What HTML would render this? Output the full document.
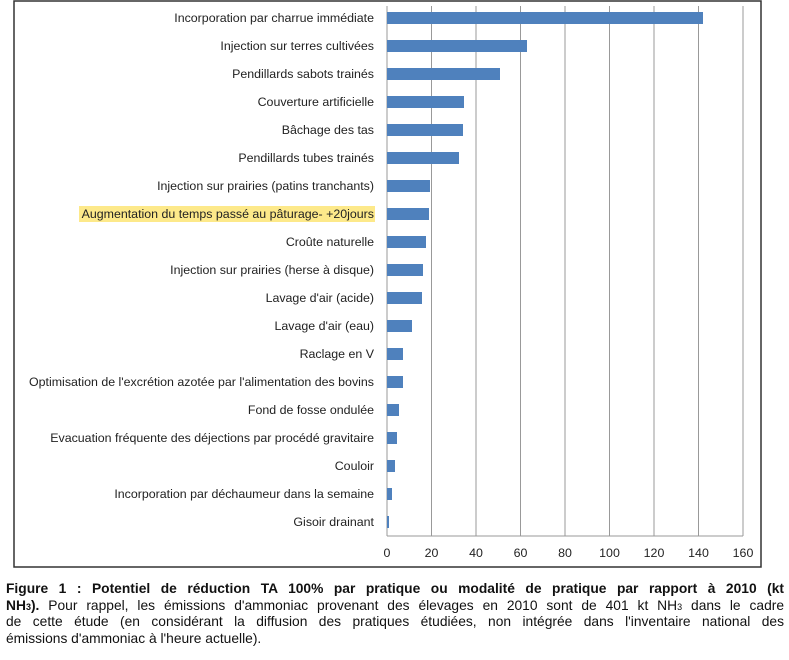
<!DOCTYPE html>
<html><head><meta charset="utf-8"><style>
body{margin:0;background:#fff;width:789px;height:660px;overflow:hidden;position:relative;font-family:"Liberation Sans",Arial,sans-serif}
svg{position:absolute;left:0;top:0}
.cap{position:absolute;left:6px;top:581px;width:778px;font-size:13.8px;line-height:16.6px;color:#111}
.cap div{text-align:justify;text-align-last:justify;white-space:nowrap;overflow:hidden;height:16.6px}
.cap div.l{text-align-last:left}
</style></head><body>
<svg width="789" height="575" viewBox="0 0 789 575" font-family="Liberation Sans, sans-serif" font-size="12.4" fill="#222">
<rect x="14" y="1" width="747" height="566" fill="#fff" stroke="#333" stroke-width="1.5"/>
<g stroke="#999" stroke-width="1">
<line x1="431.5" y1="6" x2="431.5" y2="536"/><line x1="476" y1="6" x2="476" y2="536"/><line x1="520.5" y1="6" x2="520.5" y2="536"/><line x1="565" y1="6" x2="565" y2="536"/><line x1="609.5" y1="6" x2="609.5" y2="536"/><line x1="654" y1="6" x2="654" y2="536"/><line x1="698.5" y1="6" x2="698.5" y2="536"/><line x1="743" y1="6" x2="743" y2="536"/>
<line x1="387" y1="6" x2="387" y2="536"/><line x1="387" y1="536" x2="743" y2="536"/>
</g>
<rect x="79" y="206" width="296" height="16" fill="#fde98a"/>
<g fill="#4f81bd">
<rect x="387" y="12" width="316" height="12"/>
<rect x="387" y="40" width="140" height="12"/>
<rect x="387" y="68" width="113" height="12"/>
<rect x="387" y="96" width="77" height="12"/>
<rect x="387" y="124" width="76" height="12"/>
<rect x="387" y="152" width="72" height="12"/>
<rect x="387" y="180" width="43" height="12"/>
<rect x="387" y="208" width="42" height="12"/>
<rect x="387" y="236" width="39" height="12"/>
<rect x="387" y="264" width="36" height="12"/>
<rect x="387" y="292" width="35" height="12"/>
<rect x="387" y="320" width="25" height="12"/>
<rect x="387" y="348" width="16" height="12"/>
<rect x="387" y="376" width="16" height="12"/>
<rect x="387" y="404" width="12" height="12"/>
<rect x="387" y="432" width="10" height="12"/>
<rect x="387" y="460" width="8" height="12"/>
<rect x="387" y="488" width="5" height="12"/>
<rect x="387" y="516" width="2" height="12"/>
</g>
<g text-anchor="end">
<text x="374" y="22">Incorporation par charrue immédiate</text>
<text x="374" y="50">Injection sur terres cultivées</text>
<text x="374" y="78">Pendillards sabots trainés</text>
<text x="374" y="106">Couverture artificielle</text>
<text x="374" y="134">Bâchage des tas</text>
<text x="374" y="162">Pendillards tubes trainés</text>
<text x="374" y="190">Injection sur prairies (patins tranchants)</text>
<text x="374" y="218">Augmentation du temps passé au pâturage- +20jours</text>
<text x="374" y="246">Croûte naturelle</text>
<text x="374" y="274">Injection sur prairies (herse à disque)</text>
<text x="374" y="302">Lavage d'air (acide)</text>
<text x="374" y="330">Lavage d'air (eau)</text>
<text x="374" y="358">Raclage en V</text>
<text x="374" y="386">Optimisation de l'excrétion azotée par l'alimentation des bovins</text>
<text x="374" y="414">Fond de fosse ondulée</text>
<text x="374" y="442">Evacuation fréquente des déjections par procédé gravitaire</text>
<text x="374" y="470">Couloir</text>
<text x="374" y="498">Incorporation par déchaumeur dans la semaine</text>
<text x="374" y="526">Gisoir drainant</text>
</g>
<g text-anchor="middle">
<text x="387" y="557">0</text><text x="431.5" y="557">20</text><text x="476" y="557">40</text><text x="520.5" y="557">60</text><text x="565" y="557">80</text><text x="609.5" y="557">100</text><text x="654" y="557">120</text><text x="698.5" y="557">140</text><text x="743" y="557">160</text>
</g>
</svg>
<div class="cap">
<div><b>Figure 1 : Potentiel de réduction TA 100% par pratique ou modalité de pratique par rapport à 2010 (kt</b></div>
<div><b>NH<span style="font-size:9px">3</span>).</b> Pour rappel, les émissions d'ammoniac provenant des élevages en 2010 sont de 401 kt NH<span style="font-size:9px">3</span> dans le cadre</div>
<div>de cette étude (en considérant la diffusion des pratiques étudiées, non intégrée dans l'inventaire national des</div>
<div class="l">émissions d'ammoniac à l'heure actuelle).</div>
</div>
</body></html>
